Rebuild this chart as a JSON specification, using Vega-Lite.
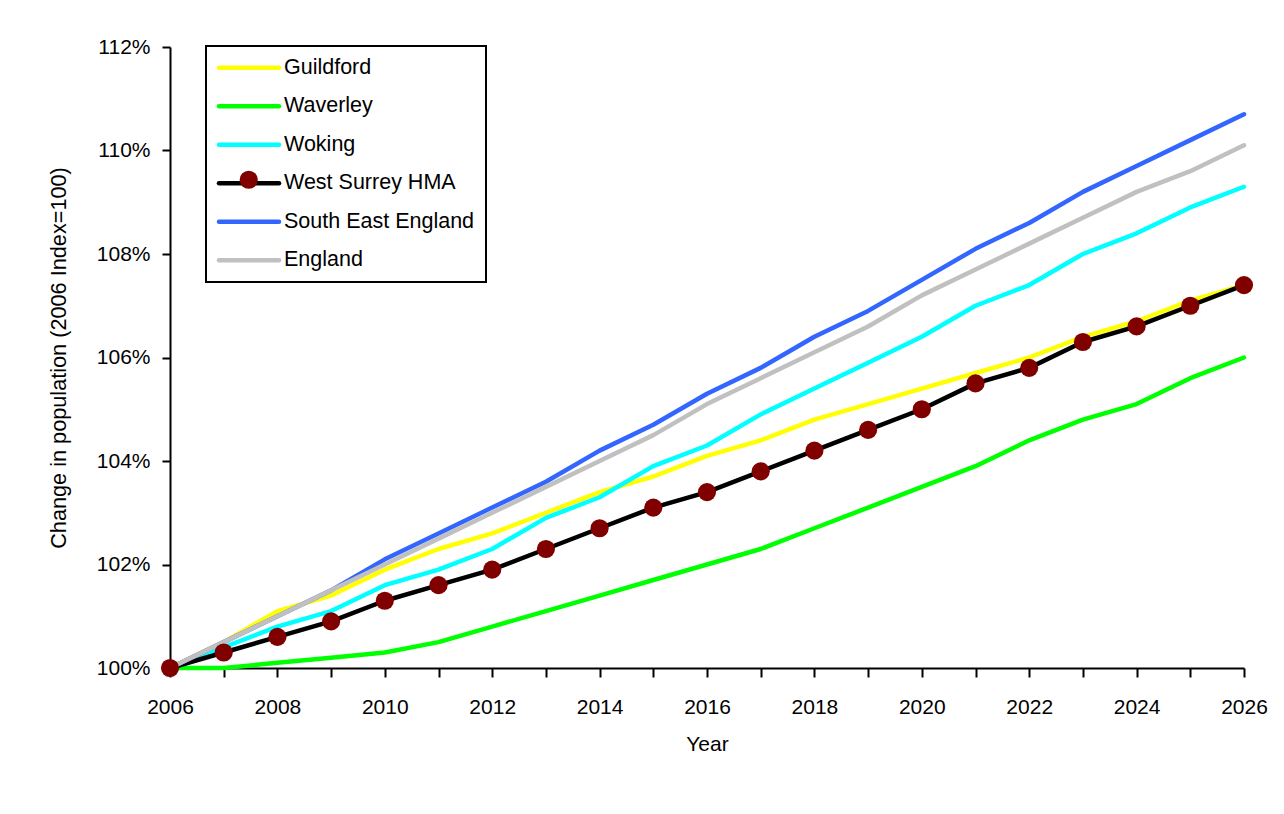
{
  "$schema": "https://vega.github.io/schema/vega-lite/v6.json",
  "width": 1074,
  "height": 621,
  "autosize": {"type": "none"},
  "padding": {"left": 170, "top": 47, "right": 40, "bottom": 146},
  "background": "white",
  "datasets": {
    "population": [
      {"series": "Guildford", "year": 2006, "value": 100.0},
      {"series": "Guildford", "year": 2007, "value": 100.5},
      {"series": "Guildford", "year": 2008, "value": 101.1},
      {"series": "Guildford", "year": 2009, "value": 101.4},
      {"series": "Guildford", "year": 2010, "value": 101.9},
      {"series": "Guildford", "year": 2011, "value": 102.3},
      {"series": "Guildford", "year": 2012, "value": 102.6},
      {"series": "Guildford", "year": 2013, "value": 103.0},
      {"series": "Guildford", "year": 2014, "value": 103.4},
      {"series": "Guildford", "year": 2015, "value": 103.7},
      {"series": "Guildford", "year": 2016, "value": 104.1},
      {"series": "Guildford", "year": 2017, "value": 104.4},
      {"series": "Guildford", "year": 2018, "value": 104.8},
      {"series": "Guildford", "year": 2019, "value": 105.1},
      {"series": "Guildford", "year": 2020, "value": 105.4},
      {"series": "Guildford", "year": 2021, "value": 105.7},
      {"series": "Guildford", "year": 2022, "value": 106.0},
      {"series": "Guildford", "year": 2023, "value": 106.4},
      {"series": "Guildford", "year": 2024, "value": 106.7},
      {"series": "Guildford", "year": 2025, "value": 107.1},
      {"series": "Guildford", "year": 2026, "value": 107.4},
      {"series": "Waverley", "year": 2006, "value": 100.0},
      {"series": "Waverley", "year": 2007, "value": 100.0},
      {"series": "Waverley", "year": 2008, "value": 100.1},
      {"series": "Waverley", "year": 2009, "value": 100.2},
      {"series": "Waverley", "year": 2010, "value": 100.3},
      {"series": "Waverley", "year": 2011, "value": 100.5},
      {"series": "Waverley", "year": 2012, "value": 100.8},
      {"series": "Waverley", "year": 2013, "value": 101.1},
      {"series": "Waverley", "year": 2014, "value": 101.4},
      {"series": "Waverley", "year": 2015, "value": 101.7},
      {"series": "Waverley", "year": 2016, "value": 102.0},
      {"series": "Waverley", "year": 2017, "value": 102.3},
      {"series": "Waverley", "year": 2018, "value": 102.7},
      {"series": "Waverley", "year": 2019, "value": 103.1},
      {"series": "Waverley", "year": 2020, "value": 103.5},
      {"series": "Waverley", "year": 2021, "value": 103.9},
      {"series": "Waverley", "year": 2022, "value": 104.4},
      {"series": "Waverley", "year": 2023, "value": 104.8},
      {"series": "Waverley", "year": 2024, "value": 105.1},
      {"series": "Waverley", "year": 2025, "value": 105.6},
      {"series": "Waverley", "year": 2026, "value": 106.0},
      {"series": "Woking", "year": 2006, "value": 100.0},
      {"series": "Woking", "year": 2007, "value": 100.4},
      {"series": "Woking", "year": 2008, "value": 100.8},
      {"series": "Woking", "year": 2009, "value": 101.1},
      {"series": "Woking", "year": 2010, "value": 101.6},
      {"series": "Woking", "year": 2011, "value": 101.9},
      {"series": "Woking", "year": 2012, "value": 102.3},
      {"series": "Woking", "year": 2013, "value": 102.9},
      {"series": "Woking", "year": 2014, "value": 103.3},
      {"series": "Woking", "year": 2015, "value": 103.9},
      {"series": "Woking", "year": 2016, "value": 104.3},
      {"series": "Woking", "year": 2017, "value": 104.9},
      {"series": "Woking", "year": 2018, "value": 105.4},
      {"series": "Woking", "year": 2019, "value": 105.9},
      {"series": "Woking", "year": 2020, "value": 106.4},
      {"series": "Woking", "year": 2021, "value": 107.0},
      {"series": "Woking", "year": 2022, "value": 107.4},
      {"series": "Woking", "year": 2023, "value": 108.0},
      {"series": "Woking", "year": 2024, "value": 108.4},
      {"series": "Woking", "year": 2025, "value": 108.9},
      {"series": "Woking", "year": 2026, "value": 109.3},
      {"series": "West Surrey HMA", "year": 2006, "value": 100.0},
      {"series": "West Surrey HMA", "year": 2007, "value": 100.3},
      {"series": "West Surrey HMA", "year": 2008, "value": 100.6},
      {"series": "West Surrey HMA", "year": 2009, "value": 100.9},
      {"series": "West Surrey HMA", "year": 2010, "value": 101.3},
      {"series": "West Surrey HMA", "year": 2011, "value": 101.6},
      {"series": "West Surrey HMA", "year": 2012, "value": 101.9},
      {"series": "West Surrey HMA", "year": 2013, "value": 102.3},
      {"series": "West Surrey HMA", "year": 2014, "value": 102.7},
      {"series": "West Surrey HMA", "year": 2015, "value": 103.1},
      {"series": "West Surrey HMA", "year": 2016, "value": 103.4},
      {"series": "West Surrey HMA", "year": 2017, "value": 103.8},
      {"series": "West Surrey HMA", "year": 2018, "value": 104.2},
      {"series": "West Surrey HMA", "year": 2019, "value": 104.6},
      {"series": "West Surrey HMA", "year": 2020, "value": 105.0},
      {"series": "West Surrey HMA", "year": 2021, "value": 105.5},
      {"series": "West Surrey HMA", "year": 2022, "value": 105.8},
      {"series": "West Surrey HMA", "year": 2023, "value": 106.3},
      {"series": "West Surrey HMA", "year": 2024, "value": 106.6},
      {"series": "West Surrey HMA", "year": 2025, "value": 107.0},
      {"series": "West Surrey HMA", "year": 2026, "value": 107.4},
      {"series": "South East England", "year": 2006, "value": 100.0},
      {"series": "South East England", "year": 2007, "value": 100.5},
      {"series": "South East England", "year": 2008, "value": 101.0},
      {"series": "South East England", "year": 2009, "value": 101.5},
      {"series": "South East England", "year": 2010, "value": 102.1},
      {"series": "South East England", "year": 2011, "value": 102.6},
      {"series": "South East England", "year": 2012, "value": 103.1},
      {"series": "South East England", "year": 2013, "value": 103.6},
      {"series": "South East England", "year": 2014, "value": 104.2},
      {"series": "South East England", "year": 2015, "value": 104.7},
      {"series": "South East England", "year": 2016, "value": 105.3},
      {"series": "South East England", "year": 2017, "value": 105.8},
      {"series": "South East England", "year": 2018, "value": 106.4},
      {"series": "South East England", "year": 2019, "value": 106.9},
      {"series": "South East England", "year": 2020, "value": 107.5},
      {"series": "South East England", "year": 2021, "value": 108.1},
      {"series": "South East England", "year": 2022, "value": 108.6},
      {"series": "South East England", "year": 2023, "value": 109.2},
      {"series": "South East England", "year": 2024, "value": 109.7},
      {"series": "South East England", "year": 2025, "value": 110.2},
      {"series": "South East England", "year": 2026, "value": 110.7},
      {"series": "England", "year": 2006, "value": 100.0},
      {"series": "England", "year": 2007, "value": 100.5},
      {"series": "England", "year": 2008, "value": 101.0},
      {"series": "England", "year": 2009, "value": 101.5},
      {"series": "England", "year": 2010, "value": 102.0},
      {"series": "England", "year": 2011, "value": 102.5},
      {"series": "England", "year": 2012, "value": 103.0},
      {"series": "England", "year": 2013, "value": 103.5},
      {"series": "England", "year": 2014, "value": 104.0},
      {"series": "England", "year": 2015, "value": 104.5},
      {"series": "England", "year": 2016, "value": 105.1},
      {"series": "England", "year": 2017, "value": 105.6},
      {"series": "England", "year": 2018, "value": 106.1},
      {"series": "England", "year": 2019, "value": 106.6},
      {"series": "England", "year": 2020, "value": 107.2},
      {"series": "England", "year": 2021, "value": 107.7},
      {"series": "England", "year": 2022, "value": 108.2},
      {"series": "England", "year": 2023, "value": 108.7},
      {"series": "England", "year": 2024, "value": 109.2},
      {"series": "England", "year": 2025, "value": 109.6},
      {"series": "England", "year": 2026, "value": 110.1}
    ]
  },
  "data": {"name": "population"},
  "encoding": {
    "x": {
      "field": "year",
      "type": "quantitative",
      "scale": {"domain": [2006, 2026], "nice": false, "zero": false},
      "axis": {
        "title": "Year",
        "values": [2006, 2007, 2008, 2009, 2010, 2011, 2012, 2013, 2014, 2015, 2016, 2017, 2018, 2019, 2020, 2021, 2022, 2023, 2024, 2025, 2026],
        "format": "d",
        "labelExpr": "datum.value % 2 === 0 ? datum.label : ''",
        "labelOverlap": false,
        "labelFlush": false,
        "tickSize": 9,
        "labelPadding": 19.5,
        "titlePadding": 16
      }
    },
    "y": {
      "field": "value",
      "type": "quantitative",
      "scale": {"domain": [100, 112], "nice": false, "zero": false},
      "axis": {
        "title": "Change in population (2006 Index=100)",
        "titleFontSize": 21.7,
        "values": [100, 102, 104, 106, 108, 110, 112],
        "format": "d",
        "labelExpr": "datum.label + '%'",
        "labelOverlap": false,
        "labelFlush": false,
        "tickSize": 8,
        "labelPadding": 12,
        "titlePadding": 26
      }
    }
  },
  "layer": [
    {
      "mark": {"type": "line", "strokeWidth": 4.5, "strokeCap": "round", "strokeJoin": "round"},
      "encoding": {
        "stroke": {
          "field": "series",
          "type": "nominal",
          "scale": {
            "domain": ["Guildford", "Waverley", "Woking", "West Surrey HMA", "South East England", "England"],
            "range": ["#ffff00", "#00ff00", "#00ffff", "#000000", "#3366ff", "#c0c0c0"]
          },
          "legend": {
            "title": null,
            "orient": "none",
            "legendX": 36,
            "legendY": -1,
            "padding": 11,
            "fillColor": "white",
            "strokeColor": "black",
            "symbolType": "M-6,0H6",
            "symbolSize": 100,
            "symbolStrokeWidth": 4.5,
            "symbolOffset": 21.25,
            "labelOffset": 24.25,
            "rowPadding": 15.5,
            "labelFontSize": 21.5,
            "labelColor": "black",
            "labelLimit": 400,
            "encode": {
              "legend": {"update": {"strokeWidth": {"value": 2}}},
              "symbols": {"update": {"strokeCap": {"value": "round"}}}
            }
          }
        },
        "order": {"field": "year"}
      }
    },
    {
      "transform": [{"filter": "datum.series === 'West Surrey HMA'"}],
      "mark": {"type": "point", "filled": true, "size": 330, "strokeWidth": 0, "opacity": 1},
      "encoding": {
        "fill": {
          "field": "series",
          "type": "nominal",
          "scale": {"domain": ["West Surrey HMA"], "range": ["#800000"]},
          "legend": {
            "title": null,
            "orient": "none",
            "legendX": 68,
            "legendY": 122,
            "padding": 0,
            "symbolType": "circle",
            "symbolSize": 330,
            "symbolStrokeWidth": 0,
            "symbolOffset": 0,
            "labelFontSize": 21.5,
            "labelExpr": "''"
          }
        }
      }
    }
  ],
  "config": {
    "font": "Liberation Sans, Arial, sans-serif",
    "view": {"stroke": null},
    "axis": {
      "grid": false,
      "domainColor": "black",
      "domainWidth": 2,
      "tickColor": "black",
      "tickWidth": 2,
      "labelColor": "black",
      "labelFontSize": 21,
      "titleColor": "black",
      "titleFontSize": 21,
      "titleFontWeight": "normal"
    },
    "legend": {"labelFont": "Liberation Sans, Arial, sans-serif"}
  }
}
